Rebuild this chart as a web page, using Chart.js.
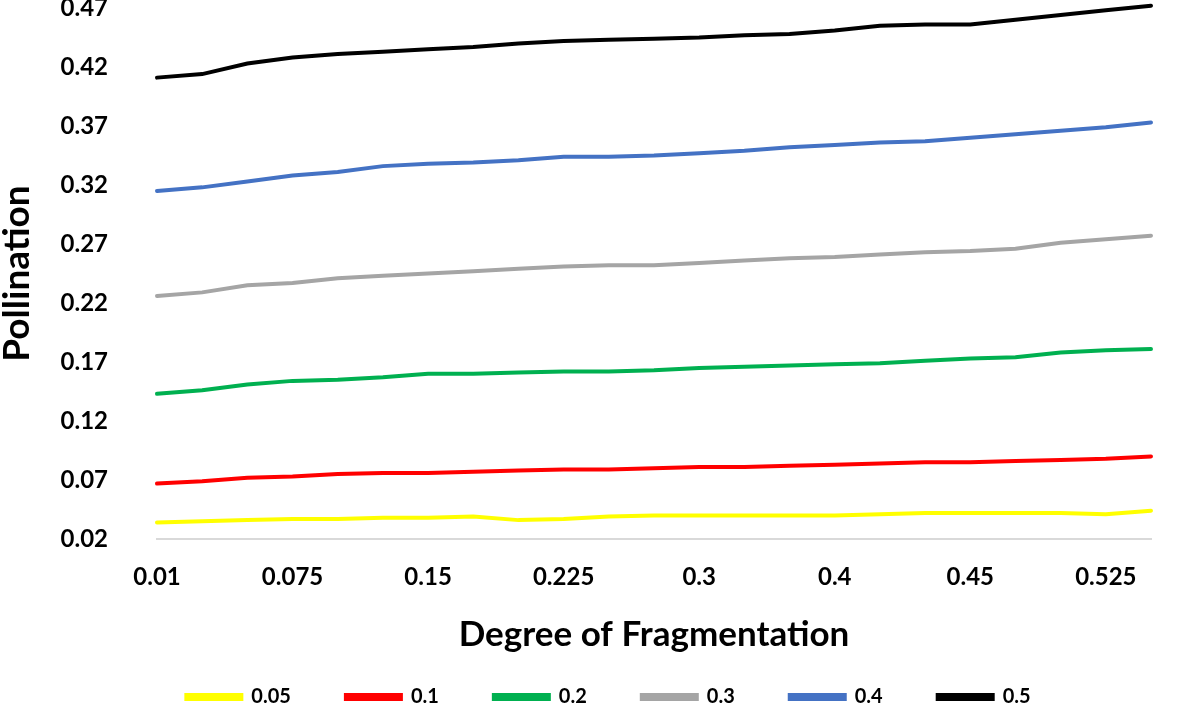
<!DOCTYPE html>
<html lang="en">
<head>
  <meta charset="UTF-8">
  <title>Pollination vs Degree of Fragmentation</title>
  <script src="https://cdn.jsdelivr.net/npm/chart.js"></script>
  <style>
    body { margin: 0; background: #fff; }
  </style>
</head>
<body>
  <canvas id="chart" width="1181" height="704"></canvas>

  <script>
    // x categories (only every third one is labelled on the axis)
    const categories = ['0.01', '0.025', '0.05', '0.075', '0.1', '0.125', '0.15', '0.175',
      '0.2', '0.225', '0.25', '0.275', '0.3', '0.325', '0.35', '0.4', '0.425', '0.44',
      '0.45', '0.475', '0.5', '0.525', '0.55'];

    const s005 = [0.034, 0.035, 0.036, 0.037, 0.037, 0.038, 0.038, 0.039, 0.036, 0.037, 0.039, 0.040,
      0.040, 0.040, 0.040, 0.040, 0.041, 0.042, 0.042, 0.042, 0.042, 0.041, 0.044];
    const s01 = [0.067, 0.069, 0.072, 0.073, 0.075, 0.076, 0.076, 0.077, 0.078, 0.079, 0.079, 0.080,
      0.081, 0.081, 0.082, 0.083, 0.084, 0.085, 0.085, 0.086, 0.087, 0.088, 0.090];
    const s02 = [0.143, 0.146, 0.151, 0.154, 0.155, 0.157, 0.160, 0.160, 0.161, 0.162, 0.162, 0.163,
      0.165, 0.166, 0.167, 0.168, 0.169, 0.171, 0.173, 0.174, 0.178, 0.180, 0.181];
    const s03 = [0.226, 0.229, 0.235, 0.237, 0.241, 0.243, 0.245, 0.247, 0.249, 0.251, 0.252, 0.252,
      0.254, 0.256, 0.258, 0.259, 0.261, 0.263, 0.264, 0.266, 0.271, 0.274, 0.277];
    const s04 = [0.315, 0.318, 0.323, 0.328, 0.331, 0.336, 0.338, 0.339, 0.341, 0.344, 0.344, 0.345,
      0.347, 0.349, 0.352, 0.354, 0.356, 0.357, 0.360, 0.363, 0.366, 0.369, 0.373];
    const s05 = [0.411, 0.414, 0.423, 0.428, 0.431, 0.433, 0.435, 0.437, 0.440, 0.442, 0.443, 0.444,
      0.445, 0.447, 0.448, 0.451, 0.455, 0.456, 0.456, 0.460, 0.464, 0.468, 0.472];

    const seriesNames = ['0.05', '0.1', '0.2', '0.3', '0.4', '0.5'];
    const seriesData = [s005, s01, s02, s03, s04, s05];
    const seriesColors = ['#FFFF00', '#FF0000', '#00B050', '#A5A5A5', '#4472C4', '#000000'];

    const fontFamily = 'Lato, "Open Sans", sans-serif';

    const datasets = seriesNames.map((name, i) => ({
      label: name,
      data: seriesData[i],
      borderColor: seriesColors[i],
      backgroundColor: seriesColors[i],
      borderWidth: 4,
      borderCapStyle: 'round',
      pointRadius: 0,
      tension: 0,
      fill: false,
      clip: false
    }));

    // nudge the legend row to where the original has it
    const legendNudge = {
      id: 'legendNudge',
      afterLayout(chart) {
        const lg = chart.legend;
        lg.left += 33; lg.right += 33;
        lg.top += 18; lg.bottom += 18;
      }
    };

    new Chart(document.getElementById('chart'), {
      type: 'line',
      data: { labels: categories, datasets: datasets },
      plugins: [legendNudge],
      options: {
        responsive: false,
        animation: false,
        layout: { padding: { top: 8, right: 30, bottom: 5, left: 0 } },
        plugins: {
          tooltip: { enabled: false },
          legend: {
            position: 'bottom',
            labels: {
              boxWidth: 55,
              boxHeight: 4,
              padding: 55,
              color: '#000',
              font: { family: fontFamily, size: 20, weight: 'bold' }
            }
          }
        },
        scales: {
          x: {
            grid: { display: false },
            border: { display: true, color: '#d9d9d9', width: 2 },
            ticks: {
              autoSkip: false,
              maxRotation: 0,
              padding: 16,
              color: '#000',
              font: { family: fontFamily, size: 24, weight: 'bold' },
              callback: (val, idx) => idx % 3 === 0 ? categories[idx] : ''
            },
            title: {
              display: true,
              text: 'Degree of Fragmentation',
              color: '#000',
              font: { family: fontFamily, size: 35, weight: 'bold' },
              padding: { top: 0, bottom: -42 }
            },
            afterFit: (scale) => { scale.height = 75; }
          },
          y: {
            min: 0.02,
            max: 0.47,
            grid: { display: false, drawTicks: true, tickLength: 49 },
            border: { display: false },
            ticks: {
              stepSize: 0.05,
              padding: 0,
              color: '#000',
              font: { family: fontFamily, size: 24, weight: 'bold', lineHeight: 0.6 },
              callback: (v) => v.toFixed(2)
            },
            title: {
              display: true,
              text: 'Pollination',
              color: '#000',
              font: { family: fontFamily, size: 37, weight: 'bold' },
              padding: { top: -5, bottom: 0 }
            },
            afterFit: (scale) => { scale.width = 157; }
          }
        }
      }
    });
  </script>
</body>
</html>
